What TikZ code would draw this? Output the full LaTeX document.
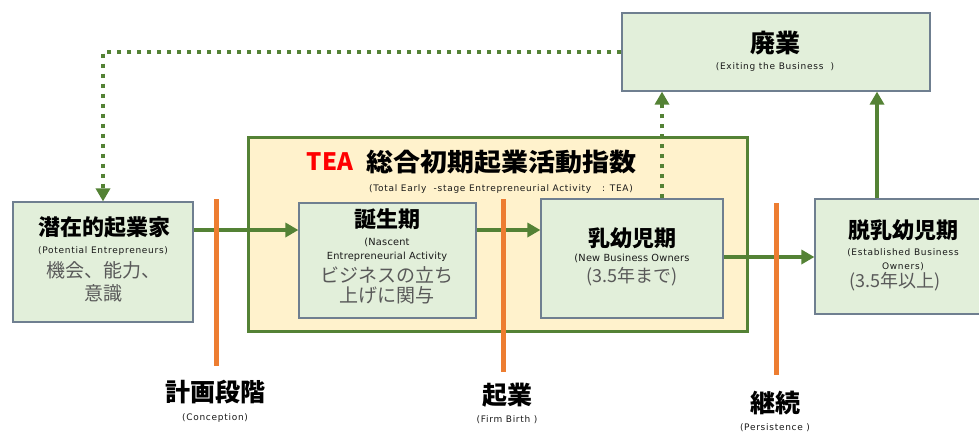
\documentclass[tikz,border=0pt]{standalone}
\usepackage{fontspec}
\setmainfont{Noto Sans CJK JP}
\newfontfamily\latsmall[LetterSpace=8]{DejaVu Sans}
\newfontfamily\latmid[LetterSpace=2]{DejaVu Sans}
\usepackage{graphicx}
\usetikzlibrary{arrows.meta}
\definecolor{lgreen}{HTML}{E2EFDA}
\definecolor{dgreen}{HTML}{548235}
\definecolor{bordc}{HTML}{6F7F90}
\definecolor{teafill}{HTML}{FFF2CC}
\definecolor{orng}{HTML}{ED7D31}
\definecolor{graytxt}{HTML}{595959}
\definecolor{teared}{HTML}{FF0000}
\newcommand\myfs[1]{\fontsize{#1}{#1}\selectfont}
\begin{document}
\begin{tikzpicture}[x=1pt,y=-1pt,
  stagebox/.style={draw=bordc,line width=1.2pt,fill=lgreen,inner sep=0pt},
  titletxt/.style={inner sep=0pt,font=\myfs{22}\bfseries},
  bigtxt/.style={inner sep=0pt,font=\myfs{25}\bfseries},
  smalltxt/.style={inner sep=0pt,font=\latsmall\myfs{9},text=black!90},
  midtxt/.style={inner sep=0pt,font=\latmid\myfs{9.8},text=black!90},
  graytext/.style={inner sep=0pt,font=\myfs{19},text=graytxt},
  flow/.style={draw=dgreen,line width=4pt,-{Triangle[width=14pt,length=13pt]}},
  dotflow/.style={draw=dgreen,line width=4.5pt,dash pattern=on 4.5pt off 5.5pt,-{Triangle[width=14pt,length=13pt]}},
  bar/.style={draw=orng,line width=5pt}
]
\useasboundingbox (0,0) rectangle (979,432);
% TEA frame
\node[draw=dgreen,line width=3pt,fill=teafill,minimum width=499pt,minimum height=194pt,inner sep=0pt] (tea) at (497.5,234) {};
% boxes
\node[stagebox,minimum width=180pt,minimum height=120pt] (pot) at (103,262) {};
\node[stagebox,minimum width=177pt,minimum height=115pt] (nasc) at (387.5,260.5) {};
\node[stagebox,minimum width=182pt,minimum height=119pt] (inf) at (632,258.5) {};
\node[stagebox,minimum width=308pt,minimum height=78pt] (exit) at (776,52) {};
\node[stagebox,minimum width=172pt,minimum height=115pt] (est) at (901,256.5) {};
% helper coordinates
\coordinate (r1) at (0,230);
\coordinate (r2) at (0,257);
\coordinate (c1) at (662,0);
\coordinate (c2) at (877,0);
% connectors
\draw[flow] (pot.east |- r1) -- (nasc.west |- r1);
\draw[flow] (nasc.east |- r1) -- (inf.west |- r1);
\draw[flow] (inf.east |- r2) -- (est.west |- r2);
\draw[flow] (est.north -| c2) -- (exit.south -| c2);
\draw[dotflow] (inf.north -| c1) -- (exit.south -| c1);
\draw[dotflow] (exit.west) -| (pot.north);
% orange bars
\coordinate (b1t) at (216,199); \coordinate (b1b) at (216,366);
\coordinate (b2t) at (503,199); \coordinate (b2b) at (503,372);
\coordinate (b3t) at (776,203); \coordinate (b3b) at (776,375);
\draw[bar] (b1t) -- (b1b);
\draw[bar] (b2t) -- (b2b);
\draw[bar] (b3t) -- (b3b);
% texts: potential
\node[titletxt] (potT) at (104,227) {潜在的起業家};
\node[smalltxt] (potE) at (103,251) {(Potential Entrepreneurs)};
\node[graytext] (potG1) at (103,270) {機会、能力、};
\node[graytext] (potG2) at (103,293) {意識};
% TEA title
\node[inner sep=0pt,font=\myfs{24}\bfseries,text=teared] (teaR) at (330,162) {TEA};
\node[inner sep=0pt,font=\myfs{25}\bfseries] (teaT) at (501,162) {\scalebox{1.08}[1]{総合初期起業活動指数}};
\node[smalltxt] (teaE) at (501,189) {(Total Early \ -stage Entrepreneurial Activity \ \ : TEA)};
% nascent
\node[titletxt] (nasT) at (387,219) {誕生期};
\node[midtxt] (nasE1) at (387,242) {(Nascent};
\node[midtxt] (nasE2) at (387,257) {Entrepreneurial Activity};
\node[graytext] (nasG1) at (387,275) {ビジネスの立ち};
\node[graytext] (nasG2) at (387,295) {上げに関与};
% infant
\node[titletxt] (infT) at (632,238) {乳幼児期};
\node[midtxt] (infE) at (632,258) {(New Business Owners};
\node[graytext,font=\myfs{18}] (infG) at (632,277) {(3.5年まで)};
% exit
\node[titletxt,font=\myfs{25}\bfseries] (exT) at (775,43) {廃業};
\node[smalltxt] (exE) at (775,67) {(Exiting the Business \ )};
% established
\node[titletxt] (estT) at (903,230) {脱乳幼児期};
\node[smalltxt] (estE1) at (903,253) {(Established Business};
\node[smalltxt] (estE2) at (903,267) {Owners)};
\node[graytext,font=\myfs{18}] (estG) at (895,282) {(3.5年以上)};
% bottom labels
\node[bigtxt] (l1) at (215,392) {計画段階};
\node[smalltxt] (l1e) at (215,418) {(Conception)};
\node[bigtxt] (l2) at (507,395) {起業};
\node[smalltxt] (l2e) at (507,420) {(Firm Birth )};
\node[bigtxt] (l3) at (775,403) {継続};
\node[smalltxt] (l3e) at (775,428) {(Persistence )};
\end{tikzpicture}
\end{document}
